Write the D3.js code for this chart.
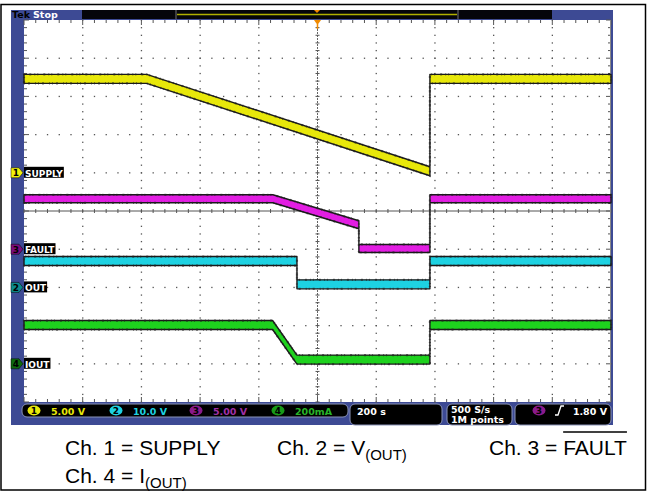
<!DOCTYPE html>
<html>
<head>
<meta charset="utf-8">
<script src="https://cdn.jsdelivr.net/npm/d3@7"></script>
<style>
body{margin:0;background:#fff}
svg{display:block}
</style>
</head>
<body>
<svg id="chart" width="650" height="491"></svg>
<script>
// time in seconds (200 s/div, trigger at screen centre)
const supplyTime = [-1000, -582, 383, 383, 1000]
const supplyVolts = [12.3, 12.3, 0.2, 12.3, 12.3]
const faultTime = [-1000, -152, 141, 141, 383, 383, 1000]
const faultVolts = [6.6, 6.6, 3.2, 0.1, 0.1, 6.6, 6.6]
const outTime = [-1000, -70, -70, 383, 383, 1000]
const outVolts = [6.9, 6.9, 0.8, 0.8, 6.9, 6.9]
const ioutTime = [-1000, -153, -70, 383, 383, 1000]
const ioutMilliamps = [203, 203, 22, 22, 203, 203]

const channelNames = ['SUPPLY', 'OUT', 'FAULT', 'IOUT']
const channelScaleLabels = ['5.00 V', '10.0 V', '5.00 V', '200mA']

const svg = d3.select('#chart')
const gx0 = 24, gx1 = 611, gy0 = 20, gy1 = 402
const dx = (gx1 - gx0) / 10, dy = (gy1 - gy0) / 10

const x = d3.scaleLinear().domain([-1000, 1000]).range([gx0, gx1])
const yDiv = d3.scaleLinear().domain([-5, 5]).range([gy1, gy0])

const frameBlue = '#3d4a94'
const monoFont = '"DejaVu Sans", sans-serif'

// outer border
svg.append('rect').attr('x', 1).attr('y', 4.5).attr('width', 644.5).attr('height', 485.5)
    .attr('fill', 'none').attr('stroke', '#000').attr('stroke-width', 1.5)

// scope frame
svg.append('rect').attr('x', 11).attr('y', 10).attr('width', 602).attr('height', 415).attr('fill', frameBlue)
svg.append('rect').attr('x', 82).attr('y', 10).attr('width', 470).attr('height', 9).attr('fill', '#05050a')
svg.append('line').attr('x1', 177).attr('x2', 457).attr('y1', 14.5).attr('y2', 14.5)
    .attr('stroke', '#b0b000').attr('stroke-width', 1.5)
svg.selectAll('.sep').data([176, 458]).enter().append('line')
    .attr('x1', d=>d).attr('x2', d=>d).attr('y1', 10).attr('y2', 19)
    .attr('stroke', '#777').attr('stroke-width', 1)
svg.append('path').attr('d', 'M314,10 L320,10 L317,13 Z').attr('fill', '#f08a00')
svg.append('text').attr('x', 12).attr('y', 18).text('Tek')
    .style('font', 'bold 9.5px ' + monoFont).attr('fill', '#000')
svg.append('text').attr('x', 33).attr('y', 18).text('Stop')
    .style('font', 'bold 9.5px ' + monoFont).attr('fill', '#fff')

// graticule
svg.append('rect').attr('x', gx0).attr('y', gy0).attr('width', gx1 - gx0).attr('height', gy1 - gy0).attr('fill', '#fff')

const grid = svg.append('g')
const dots = []
for(let i=1; i < 10; i++){
    if (i == 5) continue
    for(let j=0; j <= 50; j++){
        dots.push([gx0 + i*dx, gy0 + j*dy/5])
        dots.push([gx0 + j*dx/5, gy0 + i*dy])
    }
}
grid.selectAll('.dot').data(dots).enter().append('rect')
    .attr('x', d=>d[0]-0.6).attr('y', d=>d[1]-0.6).attr('width', 1.3).attr('height', 1.3)
    .attr('fill', '#555')

// centre cross and edge ticks
const cx = gx0 + 5*dx, cy = gy0 + 5*dy
grid.append('line').attr('x1', gx0).attr('x2', gx1).attr('y1', cy).attr('y2', cy).attr('stroke', '#555')
grid.append('line').attr('x1', cx).attr('x2', cx).attr('y1', gy0).attr('y2', gy1)
    .attr('stroke', '#666').attr('stroke-dasharray', '2,1')
const ticks = []
for(let j=0; j <= 50; j++){
    const tx = gx0 + j*dx/5, ty = gy0 + j*dy/5
    const len = j % 5 == 0 ? 5 : 3
    ticks.push([tx, cy-2, tx, cy+2])
    ticks.push([cx-2, ty, cx+2, ty])
    ticks.push([tx, gy0, tx, gy0+len])
    ticks.push([tx, gy1, tx, gy1-len])
    ticks.push([gx0, ty, gx0+len, ty])
    ticks.push([gx1, ty, gx1-len, ty])
}
grid.selectAll('.tick').data(ticks).enter().append('line')
    .attr('x1', d=>d[0]).attr('y1', d=>d[1]).attr('x2', d=>d[2]).attr('y2', d=>d[3])
    .attr('stroke', '#555').attr('stroke-width', 1)
grid.append('line').attr('x1', gx1-0.5).attr('x2', gx1-0.5).attr('y1', gy0).attr('y2', gy1).attr('stroke', '#888')

// trigger position marker
svg.append('path').attr('d', `M${cx-3.5},20 L${cx+3.5},20 L${cx},25 Z`).attr('fill', '#f08a00')
svg.append('line').attr('x1', cx).attr('x2', cx).attr('y1', 24).attr('y2', 29).attr('stroke', '#f08a00').attr('stroke-width', 1.5)

// channels
const channels = [
    {num: 1, name: channelNames[0], t: supplyTime, v: supplyVolts, perDiv: 5, offset: 1, color: '#e8e80a', marker: '#f2f20a', half: 4.5},
    {num: 3, name: channelNames[2], t: faultTime, v: faultVolts, perDiv: 5, offset: -1, color: '#e21ee2', marker: '#7c0a7c', half: 4},
    {num: 2, name: channelNames[1], t: outTime, v: outVolts, perDiv: 10, offset: -2, color: '#1ed2e2', marker: '#0c8a8c', half: 4.5},
    {num: 4, name: channelNames[3], t: ioutTime, v: ioutMilliamps, perDiv: 200, offset: -4, color: '#1ed21e', marker: '#0e6a0e', half: 4.5}
]

const traces = svg.append('g')
channels.forEach(function(ch){
    const pts = ch.t.map((t, i)=>({t: t, v: ch.v[i]}))
    const yOf = d=>yDiv(ch.offset + d.v/ch.perDiv)
    const area = d3.area()
        .x(d=>x(d.t))
        .y0(d=>yOf(d) - ch.half)
        .y1(d=>yOf(d) + ch.half)
    traces.append('path').datum(pts).attr('d', area)
        .attr('fill', ch.color).attr('stroke', '#1a1a1a').attr('stroke-width', 1.4)
        .attr('stroke-linejoin', 'round')
    // speckle along the edges, like acquisition noise
    traces.append('path').datum(pts).attr('d', area)
        .attr('fill', 'none').attr('stroke', '#222').attr('stroke-width', 2.2)
        .attr('stroke-dasharray', '1,3,2,5,1,2').attr('opacity', 0.6)
})

// ground markers and labels
channels.forEach(function(ch){
    const gy = yDiv(ch.offset)
    svg.append('path').attr('d', `M11,${gy-5} L19,${gy-5} L23,${gy} L19,${gy+5} L11,${gy+5} Z`)
        .attr('fill', ch.marker).attr('stroke', '#000').attr('stroke-width', 0.5)
    svg.append('text').attr('x', 16).attr('y', gy+3.5).attr('text-anchor', 'middle').text(ch.num)
        .style('font', 'bold 9px ' + monoFont).attr('fill', '#000')
    const label = svg.append('text').attr('x', 25).attr('y', gy+4).text(ch.name)
        .style('font', 'bold 9px ' + monoFont).attr('fill', '#fff')
    const w = label.node().getComputedTextLength()
    svg.insert('rect', 'text:last-of-type').attr('x', 24).attr('y', gy-6).attr('width', w+2).attr('height', 11).attr('fill', '#000')
    label.raise()
})

// status bar
const status = svg.append('g')
const boxes = [[22, 404, 326, 13], [350, 404, 92, 21], [447, 404, 65, 21], [515, 404, 96, 21]]
status.selectAll('.box').data(boxes).enter().append('rect')
    .attr('x', d=>d[0]).attr('y', d=>d[1]).attr('width', d=>d[2]).attr('height', d=>d[3])
    .attr('rx', 5).attr('fill', '#000').attr('stroke', '#8a93b8').attr('stroke-width', 1)

const badgeX = [34, 116, 196, 278]
const statusColors = ['#e8e80a', '#1ed2e2', '#a030a6', '#28b428']
const badgeFill = ['#e8e80a', '#1ed2e2', '#8a1a8c', '#189a18']
const order = [1, 2, 3, 4]
order.forEach(function(n, i){
    status.append('ellipse').attr('cx', badgeX[i]).attr('cy', 410.5).attr('rx', 6.5).attr('ry', 5)
        .attr('fill', badgeFill[i])
    status.append('text').attr('x', badgeX[i]).attr('y', 414).attr('text-anchor', 'middle').text(n)
        .style('font', 'bold 9px ' + monoFont).attr('fill', '#000')
    status.append('text').attr('x', badgeX[i] + 17).attr('y', 414.5).text(channelScaleLabels[i])
        .style('font', 'bold 9.5px ' + monoFont).attr('fill', statusColors[i])
})
status.append('text').attr('x', 357).attr('y', 414.5).text('200 s')
    .style('font', 'bold 9.5px ' + monoFont).attr('fill', '#fff')
status.append('text').attr('x', 451).attr('y', 413).text('500 S/s')
    .style('font', 'bold 9.5px ' + monoFont).attr('fill', '#fff')
status.append('text').attr('x', 451).attr('y', 423).text('1M points')
    .style('font', 'bold 9.5px ' + monoFont).attr('fill', '#fff')
status.append('ellipse').attr('cx', 539).attr('cy', 410.5).attr('rx', 6.5).attr('ry', 5).attr('fill', '#8a1a8c')
status.append('text').attr('x', 539).attr('y', 414).attr('text-anchor', 'middle').text('3')
    .style('font', 'bold 9px ' + monoFont).attr('fill', '#000')
status.append('path').attr('d', 'M555,415 L558,415 L561,406 L564,406')
    .attr('fill', 'none').attr('stroke', '#fff').attr('stroke-width', 1.3)
status.append('text').attr('x', 607).attr('y', 414.5).attr('text-anchor', 'end').text('1.80 V')
    .style('font', 'bold 9.5px ' + monoFont).attr('fill', '#fff')

// caption
const capFont = '21px "Liberation Sans", Arial, sans-serif'
const cap = svg.append('g').style('font', capFont).attr('fill', '#000')
cap.append('text').attr('x', 65).attr('y', 455).text('Ch. 1 = SUPPLY')
const c2 = cap.append('text').attr('x', 277).attr('y', 455).text('Ch. 2 = V')
c2.append('tspan').attr('dy', 5).style('font-size', '15px').text('(OUT)')
const c3 = cap.append('text').attr('x', 489).attr('y', 455).text('Ch. 3 = ')
const fault = c3.append('tspan').text('FAULT')
const c4 = cap.append('text').attr('x', 65).attr('y', 483).text('Ch. 4 = I')
c4.append('tspan').attr('dy', 5).style('font-size', '15px').text('(OUT)')

const c3len = c3.node().getComputedTextLength()
const faultLen = fault.node().getComputedTextLength()
cap.append('line').attr('x1', 489 + c3len - faultLen).attr('x2', 489 + c3len)
    .attr('y1', 432).attr('y2', 432).attr('stroke', '#000').attr('stroke-width', 1.5)
</script>
</body>
</html>
